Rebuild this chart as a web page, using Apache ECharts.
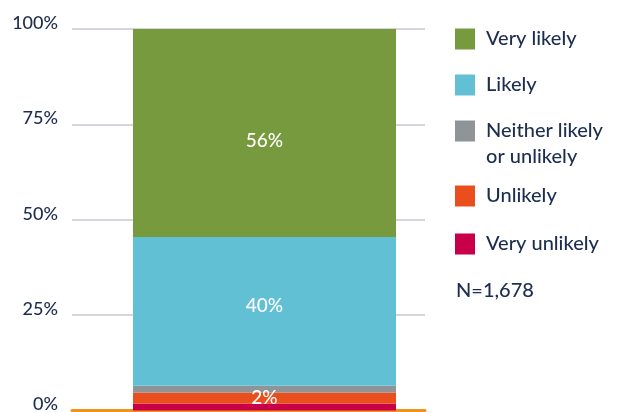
<!DOCTYPE html>
<html><head><meta charset="utf-8">
<script src="https://cdn.jsdelivr.net/npm/echarts@6/dist/echarts.min.js"></script>
<style>html,body{margin:0;padding:0;background:#fff}#c{width:625px;height:412px}</style>
</head><body><div id="c"></div>
<script>
// Stacked from bottom to top; shares (percent of total)
const seriesNames = ['Very unlikely', 'Unlikely', 'Neither likely or unlikely', 'Likely', 'Very likely'];
const veryUnlikely = [1.8];
const unlikely = [2.9];
const neither = [1.8];
const likely = [39.0];
const veryLikely = [54.5];
const segmentLabels = ['', '2%', '', '40%', '56%'];
const yTicks = [0, 25, 50, 75, 100];
const sampleNote = 'N=1,678';

const colors = ['#c8004a', '#ea4e1c', '#8f9498', '#62c0d5', '#779a3f'];
const labelOffsets = [[0,0],[0,0],[0,0],[0,-5],[0,8]];
const values = [veryUnlikely, unlikely, neither, likely, veryLikely];
const FONT = 'Lato';
const W = 500;
const navy = '#1d2d4f';

const chart = echarts.init(document.getElementById('c'));
const legendTops = {'Very likely': 26, 'Likely': 72, 'Neither likely or unlikely': 92, 'Unlikely': 183, 'Very unlikely': 231};
const legends = ['Very likely', 'Likely', 'Neither likely or unlikely', 'Unlikely', 'Very unlikely'].map(n => {
  const multi = n === 'Neither likely or unlikely';
  return {
    data: [n], left: 455, top: legendTops[n], orient: 'vertical', padding: 0,
    itemWidth: 20, itemHeight: 21, icon: 'rect', selectedMode: false,
    formatter: name => multi ? '\nNeither likely\nor unlikely' : name,
    textStyle: {fontFamily: FONT, fontWeight: W, fontSize: 20, color: navy, lineHeight: 26,
      padding: [0, 0, 0, 6]}
  };
});

chart.setOption({
  animation: false,
  color: colors,
  legend: legends,
  grid: [
    {left: 72, right: 200, top: 29, bottom: 1.5, outerBoundsMode: 'none', containLabel: false},
    {left: 133, width: 263, top: 29, bottom: 1.5, outerBoundsMode: 'none', containLabel: false}
  ],
  xAxis: [
    {gridIndex: 0, type: 'category', data: [''], axisLine: {show: true, lineStyle: {color: '#f0931a', width: 3}},
     axisTick: {show: false}, axisLabel: {show: false}},
    {gridIndex: 1, type: 'category', data: [''], show: false}
  ],
  yAxis: [
    {gridIndex: 0, type: 'value', min: yTicks[0], max: yTicks[yTicks.length-1], interval: yTicks[1]-yTicks[0],
     axisLine: {show: false}, axisTick: {show: false},
     axisLabel: {formatter: '{value}%', fontFamily: FONT, fontWeight: W, fontSize: 18, color: navy, margin: 14,
       verticalAlign: 'bottom', lineHeight: 12},
     splitLine: {lineStyle: {color: '#d3d7dc', width: 2}}},
    {gridIndex: 1, type: 'value', min: 0, max: 100, show: false}
  ],
  series: values.map((v, i) => ({
    name: seriesNames[i], type: 'bar', stack: 'all', xAxisIndex: 1, yAxisIndex: 1,
    barWidth: '100%', data: v, z: 3,
    itemStyle: {color: colors[i]},
    label: {show: segmentLabels[i] !== '', position: 'inside', formatter: segmentLabels[i],
      color: '#fff', fontFamily: FONT, fontWeight: W, fontSize: 19, offset: labelOffsets[i]}
  })),
  graphic: [{type: 'text', left: 456, top: 281, z: 10, style: {text: sampleNote, fontFamily: FONT, fontWeight: W, fontSize: 20, fill: navy}}]
});
</script></body></html>
